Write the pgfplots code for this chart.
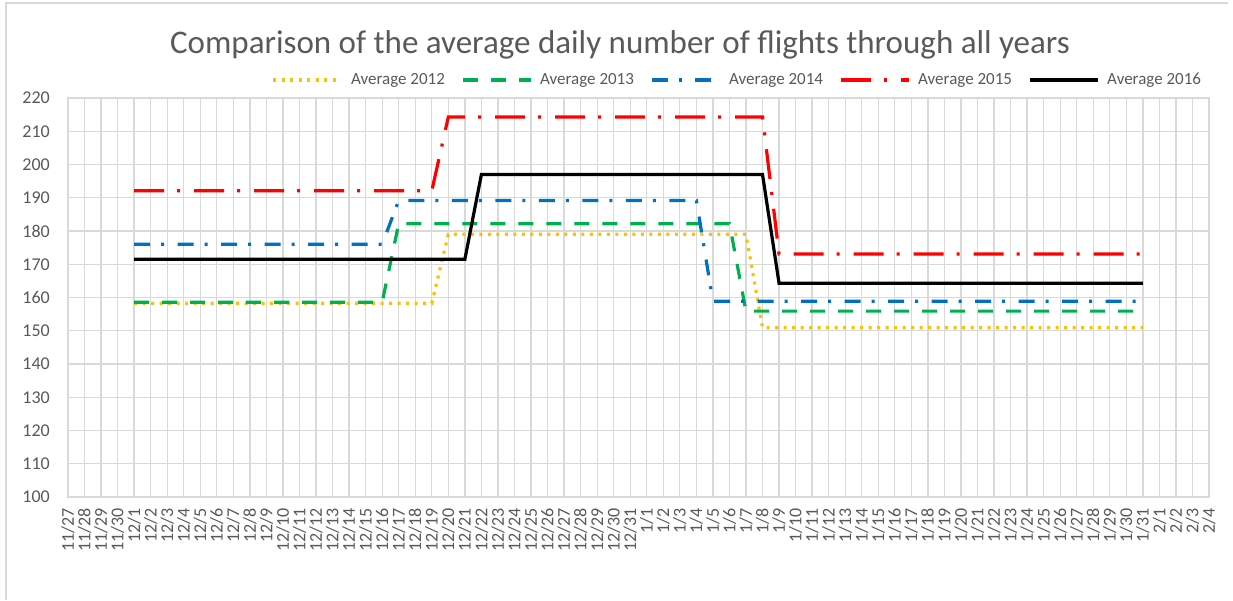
\documentclass[border=0pt]{standalone}
\usepackage{fontspec}
\setmainfont{Carlito}
\usepackage{pgfplots}
\usepackage{pgfplotstable}
\pgfplotsset{compat=1.18}
\definecolor{textc}{HTML}{595959}
\definecolor{gridc}{HTML}{D9D9D9}
\definecolor{c12}{HTML}{FFC000}
\definecolor{c13}{HTML}{00B050}
\definecolor{c14}{HTML}{0070C0}
\definecolor{c15}{HTML}{FF0000}
\pgfplotstableread{
x y12 y13 y14 y15 y16
4 158.3 158.6 176.0 192.1 171.5
5 158.3 158.6 176.0 192.1 171.5
6 158.3 158.6 176.0 192.1 171.5
7 158.3 158.6 176.0 192.1 171.5
8 158.3 158.6 176.0 192.1 171.5
9 158.3 158.6 176.0 192.1 171.5
10 158.3 158.6 176.0 192.1 171.5
11 158.3 158.6 176.0 192.1 171.5
12 158.3 158.6 176.0 192.1 171.5
13 158.3 158.6 176.0 192.1 171.5
14 158.3 158.6 176.0 192.1 171.5
15 158.3 158.6 176.0 192.1 171.5
16 158.3 158.6 176.0 192.1 171.5
17 158.3 158.6 176.0 192.1 171.5
18 158.3 158.6 176.0 192.1 171.5
19 158.3 158.6 176.0 192.1 171.5
20 158.3 182.2 189.2 192.1 171.5
21 158.3 182.2 189.2 192.1 171.5
22 158.3 182.2 189.2 192.1 171.5
23 179.0 182.2 189.2 214.3 171.5
24 179.0 182.2 189.2 214.3 171.5
25 179.0 182.2 189.2 214.3 197.0
26 179.0 182.2 189.2 214.3 197.0
27 179.0 182.2 189.2 214.3 197.0
28 179.0 182.2 189.2 214.3 197.0
29 179.0 182.2 189.2 214.3 197.0
30 179.0 182.2 189.2 214.3 197.0
31 179.0 182.2 189.2 214.3 197.0
32 179.0 182.2 189.2 214.3 197.0
33 179.0 182.2 189.2 214.3 197.0
34 179.0 182.2 189.2 214.3 197.0
35 179.0 182.2 189.2 214.3 197.0
36 179.0 182.2 189.2 214.3 197.0
37 179.0 182.2 189.2 214.3 197.0
38 179.0 182.2 189.2 214.3 197.0
39 179.0 182.2 158.9 214.3 197.0
40 179.0 182.2 158.9 214.3 197.0
41 179.0 155.9 158.9 214.3 197.0
42 150.9 155.9 158.9 214.3 197.0
43 150.9 155.9 158.9 173.1 164.3
44 150.9 155.9 158.9 173.1 164.3
45 150.9 155.9 158.9 173.1 164.3
46 150.9 155.9 158.9 173.1 164.3
47 150.9 155.9 158.9 173.1 164.3
48 150.9 155.9 158.9 173.1 164.3
49 150.9 155.9 158.9 173.1 164.3
50 150.9 155.9 158.9 173.1 164.3
51 150.9 155.9 158.9 173.1 164.3
52 150.9 155.9 158.9 173.1 164.3
53 150.9 155.9 158.9 173.1 164.3
54 150.9 155.9 158.9 173.1 164.3
55 150.9 155.9 158.9 173.1 164.3
56 150.9 155.9 158.9 173.1 164.3
57 150.9 155.9 158.9 173.1 164.3
58 150.9 155.9 158.9 173.1 164.3
59 150.9 155.9 158.9 173.1 164.3
60 150.9 155.9 158.9 173.1 164.3
61 150.9 155.9 158.9 173.1 164.3
62 150.9 155.9 158.9 173.1 164.3
63 150.9 155.9 158.9 173.1 164.3
64 150.9 155.9 158.9 173.1 164.3
65 150.9 155.9 158.9 173.1 164.3
}\datatable
\begin{document}
\begin{tikzpicture}
\path (0pt,0pt) rectangle (1233pt,600pt);
\draw[gridc, line width=1.2pt] (6pt,0pt) -- (6pt,597pt) -- (1228pt,597pt);
\node[anchor=base, text=textc, font=\fontsize{33}{38}\selectfont] at (620pt,546pt)
  {Comparison of the average daily number of flights through all years};
\begin{axis}[
  at={(68pt,103pt)}, anchor=south west,
  scale only axis, width=1141pt, height=399pt,
  xmin=0, xmax=69, ymin=100, ymax=220,
  ytick={100,110,...,220},
  xtick={0,...,69},
  xticklabels={11/27,11/28,11/29,11/30,12/1,12/2,12/3,12/4,12/5,12/6,12/7,12/8,12/9,12/10,12/11,12/12,12/13,12/14,12/15,12/16,12/17,12/18,12/19,12/20,12/21,12/22,12/23,12/24,12/25,12/26,12/27,12/28,12/29,12/30,12/31,1/1,1/2,1/3,1/4,1/5,1/6,1/7,1/8,1/9,1/10,1/11,1/12,1/13,1/14,1/15,1/16,1/17,1/18,1/19,1/20,1/21,1/22,1/23,1/24,1/25,1/26,1/27,1/28,1/29,1/30,1/31,2/1,2/2,2/3,2/4},
  grid=major,
  major grid style={draw=gridc, line width=1.3pt},
  axis line style={draw=gridc, line width=1.3pt},
  major tick length=0pt,
  tick style={draw=none},
  /pgf/number format/assume math mode=true,
  ticklabel style={text=textc, font=\fontsize{18}{20}\selectfont},
  yticklabel style={anchor=east, inner sep=0pt},
  yticklabel shift=18pt,
  xticklabel style={rotate=90, anchor=east, inner sep=0pt},
  xticklabel shift=11pt,
  legend columns=5,
  legend cell align=left,
  legend image code/.code={\draw[#1, line cap=butt] (0pt,0pt) -- (68pt,0pt);},
  legend style={at={(0.1785,1.0451)}, anchor=west, draw=none, fill=none,
    inner sep=0pt, text=textc, font=\fontsize{17}{19}\selectfont,
    nodes={inner sep=0pt},
    /tikz/every odd column/.append style={column sep=8pt},
    /tikz/every even column/.append style={column sep=16pt}},
  every axis plot/.append style={line width=3.2pt, line join=miter},
]
\addplot[c12, dash pattern=on 3pt off 5.5pt] table[x=x, y=y12] {\datatable};
\addlegendentry{Average 2012}
\addplot[c13, dash pattern=on 15pt off 13pt] table[x=x, y=y13] {\datatable};
\addlegendentry{Average 2013}
\addplot[c14, dash pattern=on 16pt off 11pt on 3pt off 13.5pt] table[x=x, y=y14] {\datatable};
\addlegendentry{Average 2014}
\addplot[c15, dash pattern=on 30pt off 13pt on 3pt off 14pt] table[x=x, y=y15] {\datatable};
\addlegendentry{Average 2015}
\addplot[black, solid] table[x=x, y=y16] {\datatable};
\addlegendentry{Average 2016}
\end{axis}
\end{tikzpicture}
\end{document}
